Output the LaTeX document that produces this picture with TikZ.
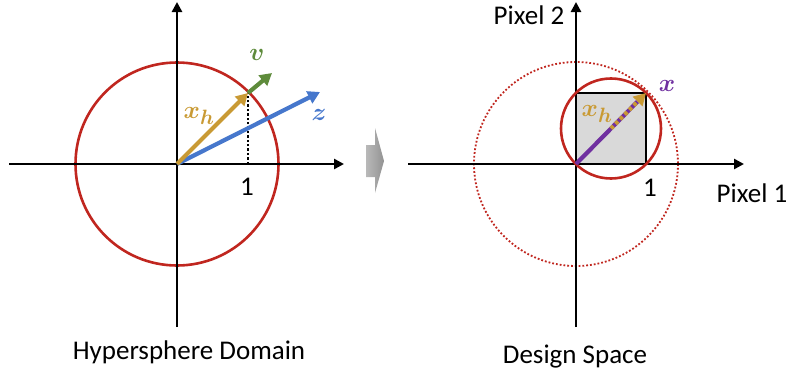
\documentclass[tikz,border=0pt]{standalone}
\usepackage{fontspec}
\setmainfont{Carlito}
\usetikzlibrary{arrows.meta,calc}
\definecolor{cred}{HTML}{C0261F}
\definecolor{cgold}{HTML}{C99A34}
\definecolor{cgreen}{HTML}{5E8B3B}
\definecolor{cblue}{HTML}{4677CC}
\definecolor{cpurple}{HTML}{7030A0}
\definecolor{cbox}{HTML}{D9D9D9}
\begin{document}
\begin{tikzpicture}[x=1pt,y=-1pt,
  axis/.style={line width=2.6pt,-{Triangle[length=10pt,width=10pt]}},
  vec/.style={line width=4.2pt,-{Triangle[length=12pt,width=13pt]}},
  lbl/.style={font=\fontsize{27}{30}\selectfont,inner sep=0pt},
  mlbl/.style={font=\fontsize{31}{34}\selectfont\boldmath,inner sep=0pt}]
\useasboundingbox (0,0) rectangle (788,372);
% ---------- left ----------
\coordinate (O1) at (177,164);
\coordinate (L1l) at (9,164);
\coordinate (L1r) at (344,164);
\coordinate (L1b) at (177,327);
\coordinate (L1t) at (177,2);
\coordinate (P1) at (248,93);
\coordinate (P1b) at (248,164);
\coordinate (V1) at (272,73);
\coordinate (Z1) at (320,92);
\draw[cred,line width=2.6pt] (O1) circle (101.5);
\draw[axis] (L1l) -- (L1r);
\draw[axis] (L1b) -- (L1t);
\draw[black,line width=2.4pt,dotted] (P1b) -- (P1);
\draw[vec,cblue] (O1) -- (Z1);
\draw[vec,cgreen] (P1) -- (V1);
\draw[vec,cgold] (O1) -- (P1);
\node[lbl] (one1) at (247,187) {1};
\node[mlbl,text=cgreen] (vl) at (257,55) {$v$};
\node[mlbl,text=cblue] (zl) at (319,115) {$z$};
\node[mlbl,text=cgold] (xhl) at (199,116) {$x_h$};
\node[lbl] (t1) at (189,352) {Hypersphere Domain};
% ---------- middle arrow ----------
\shade[left color=gray!55,right color=gray!85] (366,145) -- (375,145) -- (375,128) -- (384,161) -- (375,193) -- (375,177) -- (366,177) -- cycle;
% ---------- right ----------
\coordinate (O2) at (576,164);
\coordinate (L2l) at (408,164);
\coordinate (L2r) at (744,164);
\coordinate (L2b) at (576,327);
\coordinate (L2t) at (576,2);
\coordinate (S2) at (646,93);
\coordinate (M2) at (611,128.5);
\fill[cbox] (O2) rectangle (S2);
\draw[cred,line width=1.8pt,dotted] (O2) circle (102);
\draw[axis] (L2l) -- (L2r);
\draw[axis] (L2b) -- (L2t);
\draw[black,line width=2.6pt] (576,93) -- (S2) -- (646,164);
\draw[cred,line width=2.6pt] (M2) circle (50);
\draw[line width=4.2pt,cpurple] (O2) -- ($(O2)!0.88!(S2)$);
\draw[cgold,line width=4pt,dash pattern=on 3.5pt off 3pt,-{Triangle[length=12pt,width=13pt]}] (M2) -- (S2);
\node[lbl] (one2) at (650,188) {1};
\node[mlbl,text=cpurple] (xl) at (667,86) {$x$};
\node[mlbl,text=cgold] (xhl2) at (597,114) {$x_h$};
\node[lbl] (p1) at (752,193) {Pixel 1};
\node[lbl] (p2) at (529,15) {Pixel 2};
\node[lbl] (t2) at (575,357) {Design Space};
\end{tikzpicture}
\end{document}
